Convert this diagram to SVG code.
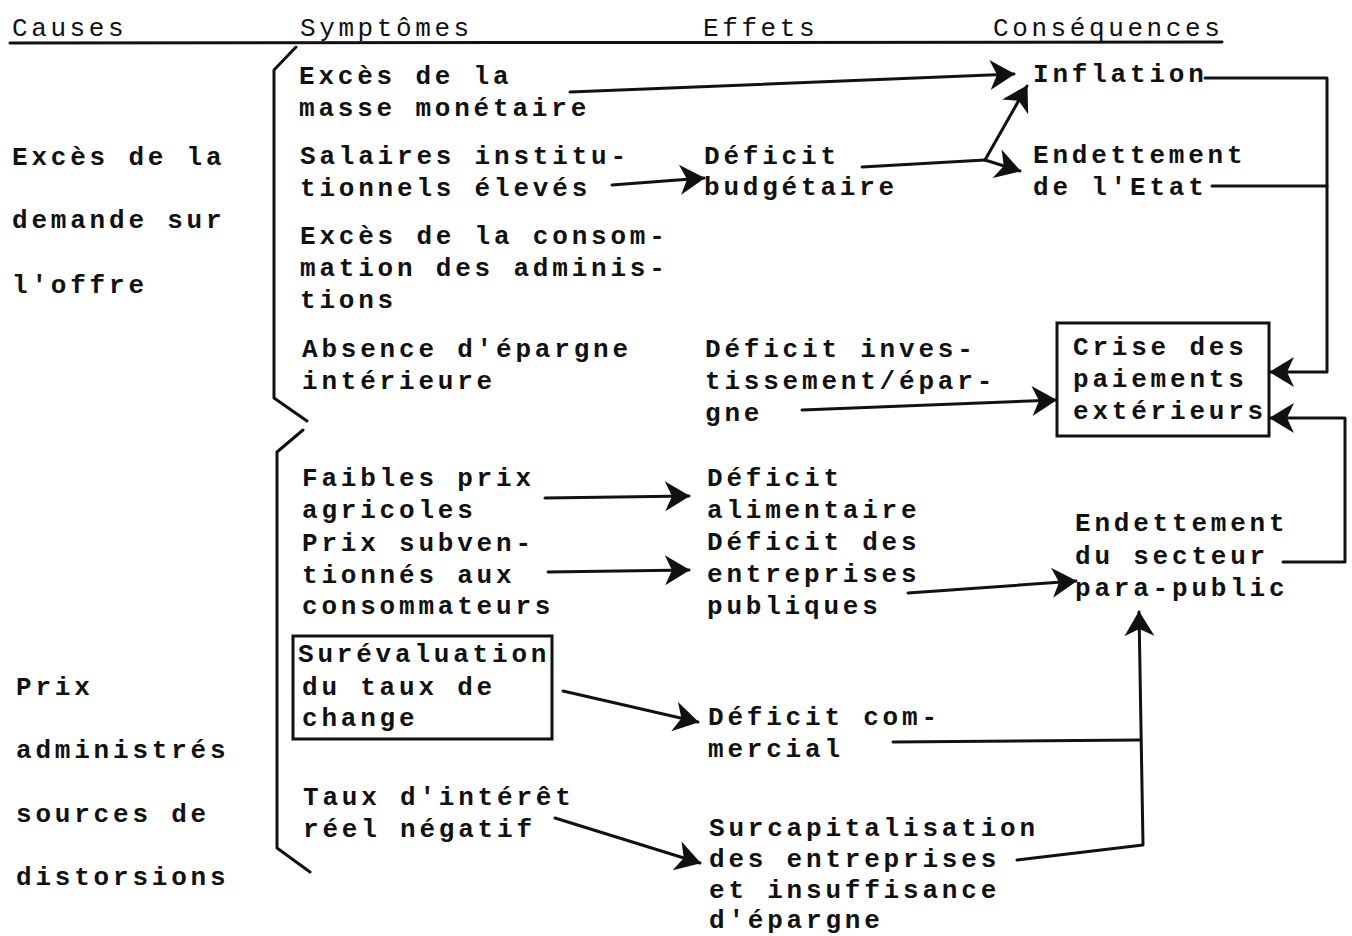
<svg xmlns="http://www.w3.org/2000/svg" width="1352" height="936" viewBox="0 0 1352 936">
<style>
  .h { font-family: "Liberation Mono", "Courier New", monospace; font-size: 26px; letter-spacing: 3.6px; fill: #111; }
  .t { font-family: "Liberation Mono", "Courier New", monospace; font-size: 26px; font-weight: bold; letter-spacing: 3.8px; fill: #111; }
  .ln { fill: none; stroke: #111; stroke-width: 3; stroke-linecap: round; stroke-linejoin: round; }
  .box { fill: none; stroke: #111; stroke-width: 3; }
</style>
<defs>
  <marker id="ah" markerUnits="userSpaceOnUse" markerWidth="28" markerHeight="34" refX="25" refY="17" orient="auto" viewBox="0 0 28 34">
    <path d="M1,2 L26,17 L1,32 L8,17 Z" fill="#111"/>
  </marker>
</defs>
<rect width="1352" height="936" fill="#fff"/>

<g id="headers">
  <text class="h" x="12" y="36">Causes</text>
  <text class="h" x="300" y="36">Symptômes</text>
  <text class="h" x="703" y="36">Effets</text>
  <text class="h" x="993" y="36">Conséquences</text>
  <line class="ln" x1="10" y1="43" x2="1222" y2="42" stroke-width="2.5"/>
</g>

<g id="braces">
  <path class="ln" d="M296,47 L274,70 L274,398 L307,421"/>
  <path class="ln" d="M303,430 L277,452 L277,848 L310,872"/>
</g>

<g id="cause-demande">
  <text class="t" x="12" y="165">Excès de la</text>
  <text class="t" x="12" y="228">demande sur</text>
  <text class="t" x="12" y="293">l'offre</text>
</g>
<g id="cause-prix">
  <text class="t" x="16" y="695">Prix</text>
  <text class="t" x="16" y="758">administrés</text>
  <text class="t" x="16" y="822">sources de</text>
  <text class="t" x="16" y="885">distorsions</text>
</g>

<g id="s-masse"><text class="t" x="299" y="84">Excès de la<tspan x="299" y="116">masse monétaire</tspan></text></g>
<g id="s-salaires"><text class="t" x="300" y="164">Salaires institu-<tspan x="300" y="196">tionnels élevés</tspan></text></g>
<g id="s-conso"><text class="t" x="300" y="244">Excès de la consom-<tspan x="300" y="276">mation des adminis-</tspan><tspan x="300" y="308">tions</tspan></text></g>
<g id="s-epargne"><text class="t" x="302" y="357">Absence d'épargne<tspan x="302" y="389">intérieure</tspan></text></g>
<g id="s-agricoles"><text class="t" x="302" y="486">Faibles prix<tspan x="302" y="518">agricoles</tspan></text></g>
<g id="s-subv"><text class="t" x="302" y="551">Prix subven-<tspan x="302" y="583">tionnés aux</tspan><tspan x="302" y="614">consommateurs</tspan></text></g>
<g id="s-change">
  <rect class="box" x="293" y="636" width="259" height="103"/>
  <text class="t" x="298" y="662">Surévaluation<tspan x="302" y="695">du taux de</tspan><tspan x="302" y="726">change</tspan></text>
</g>
<g id="s-taux"><text class="t" x="303" y="805">Taux d'intérêt<tspan x="303" y="837">réel négatif</tspan></text></g>

<g id="e-budget"><text class="t" x="704" y="164">Déficit<tspan x="704" y="195">budgétaire</tspan></text></g>
<g id="e-invest"><text class="t" x="705" y="357">Déficit inves-<tspan x="705" y="389">tissement/épar-</tspan><tspan x="705" y="421">gne</tspan></text></g>
<g id="e-alim"><text class="t" x="707" y="486">Déficit<tspan x="707" y="518">alimentaire</tspan></text></g>
<g id="e-entreprises"><text class="t" x="707" y="550">Déficit des<tspan x="707" y="582">entreprises</tspan><tspan x="707" y="614">publiques</tspan></text></g>
<g id="e-commercial"><text class="t" x="708" y="725">Déficit com-<tspan x="708" y="757">mercial</tspan></text></g>
<g id="e-surcap"><text class="t" x="709" y="836">Surcapitalisation<tspan x="709" y="867">des entreprises</tspan><tspan x="709" y="898">et insuffisance</tspan><tspan x="709" y="928">d'épargne</tspan></text></g>

<g id="c-inflation"><text class="t" x="1033" y="82">Inflation</text></g>
<g id="c-etat"><text class="t" x="1033" y="163">Endettement<tspan x="1033" y="195">de l'Etat</tspan></text></g>
<g id="c-crise">
  <rect class="box" x="1057" y="323" width="212" height="113"/>
  <text class="t" x="1073" y="355">Crise des<tspan x="1073" y="387">paiements</tspan><tspan x="1073" y="419">extérieurs</tspan></text>
</g>
<g id="c-parapublic"><text class="t" x="1075" y="531">Endettement<tspan x="1075" y="564">du secteur</tspan><tspan x="1075" y="596">para-public</tspan></text></g>

<g id="connectors">
  <path class="ln" d="M570,92 L1014,74" marker-end="url(#ah)"/>
  <path class="ln" d="M612,185 L704,178" marker-end="url(#ah)"/>
  <path class="ln" d="M862,167 L985,160"/>
  <path class="ln" d="M985,160 L1027,86" marker-end="url(#ah)"/>
  <path class="ln" d="M985,160 L1020,171" marker-end="url(#ah)"/>
  <path class="ln" d="M1205,78 L1327,78 L1327,372 L1270,372" marker-end="url(#ah)"/>
  <path class="ln" d="M1212,186 L1327,186"/>
  <path class="ln" d="M802,410 L1056,400" marker-end="url(#ah)"/>
  <path class="ln" d="M1283,562 L1345,562 L1345,418 L1270,418" marker-end="url(#ah)"/>
  <path class="ln" d="M545,498 L689,496" marker-end="url(#ah)"/>
  <path class="ln" d="M548,572 L689,570" marker-end="url(#ah)"/>
  <path class="ln" d="M908,593 L1076,581" marker-end="url(#ah)"/>
  <path class="ln" d="M563,691 L698,722" marker-end="url(#ah)"/>
  <path class="ln" d="M555,818 L700,863" marker-end="url(#ah)"/>
  <path class="ln" d="M893,742 L1140,740"/>
  <path class="ln" d="M1017,860 L1143,845 L1139,612" marker-end="url(#ah)"/>
</g>
</svg>
